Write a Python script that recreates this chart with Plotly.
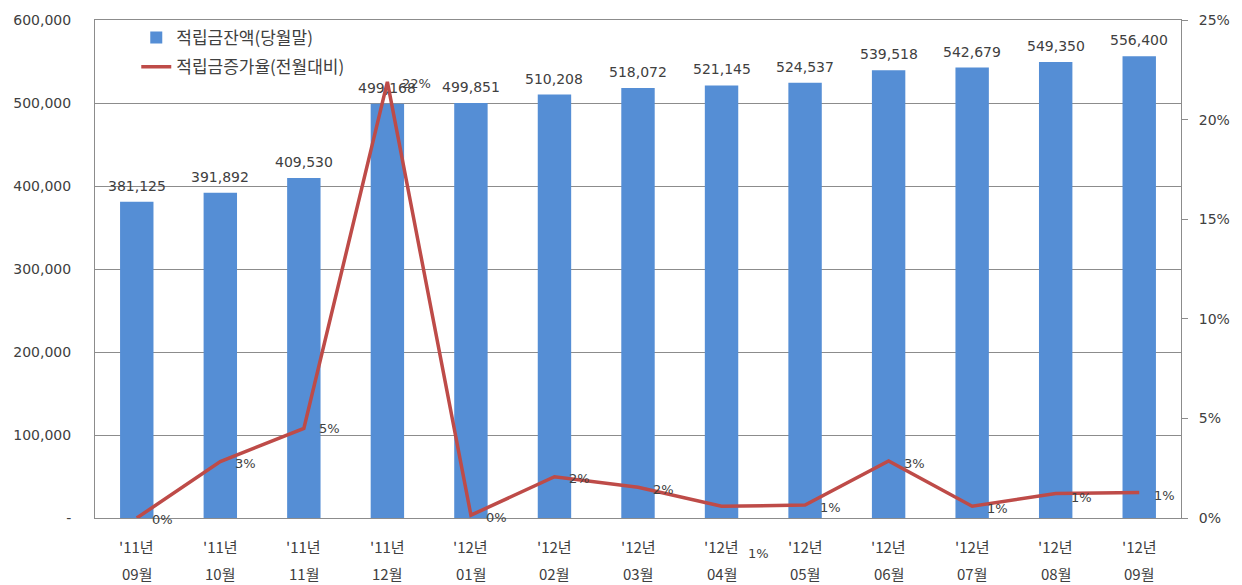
import plotly.graph_objects as go

# ---- data ----
year_labels = ["'11년", "'11년", "'11년", "'11년", "'12년", "'12년", "'12년",
               "'12년", "'12년", "'12년", "'12년", "'12년", "'12년"]
month_labels = ["09월", "10월", "11월", "12월", "01월", "02월", "03월",
                "04월", "05월", "06월", "07월", "08월", "09월"]
categories = [f"{y} {m}" for y, m in zip(year_labels, month_labels)]

balance = [381125, 391892, 409530, 499168, 499851, 510208, 518072,
           521145, 524537, 539518, 542679, 549350, 556400]
growth_pct = [0.0, 2.83, 4.50, 21.89, 0.14, 2.07, 1.54,
              0.59, 0.65, 2.86, 0.59, 1.23, 1.28]
growth_labels = ["0%", "3%", "5%", "22%", "0%", "2%", "2%",
                 "1%", "1%", "3%", "1%", "1%", "1%"]

left_tickvals = [0, 100000, 200000, 300000, 400000, 500000, 600000]
left_ticktext = ["-", "100,000", "200,000", "300,000", "400,000", "500,000", "600,000"]
right_tickvals = [0, 5, 10, 15, 20, 25]
right_ticktext = ["0%", "5%", "10%", "15%", "20%", "25%"]

bar_name = "적립금잔액(당월말)"
line_name = "적립금증가율(전월대비)"

# ---- style ----
NUM_FONT = "DejaVu Sans, Noto Sans CJK KR, sans-serif"
KR_FONT = "Noto Sans CJK KR, DejaVu Sans, sans-serif"
TEXT = "#404040"
GRID = "#8c8c8c"
BAR_COLOR = "#558ED5"
LINE_COLOR = "#BE4B48"
# per-label offsets (px) for the growth-rate labels
label_dx = [13, 13, 13, 13, 13, 13, 13, 24, 13, 13, 13, 13, 13]
label_dy = [-1, -2, 0, -2, -2, -2, -2, -47, -2, -2, -2, -4, -3]

fig = go.Figure()
fig.add_trace(go.Bar(
    x=categories, y=balance, name=bar_name, legendgroup="a",
    marker=dict(color=BAR_COLOR, line=dict(width=0)),
    yaxis="y",
))
fig.add_trace(go.Scatter(
    x=categories, y=growth_pct, name=line_name, mode="lines", legendgroup="b",
    line=dict(color=LINE_COLOR, width=3.5),
    yaxis="y2", cliponaxis=False,
))

annotations = []
for c, v in zip(categories, balance):
    annotations.append(dict(
        x=c, y=v, xref="x", yref="y", text=f"{v:,}", showarrow=False,
        yanchor="bottom", yshift=6,
        font=dict(family=NUM_FONT, size=14, color=TEXT),
    ))
for c, v, t, dx, dy in zip(categories, growth_pct, growth_labels, label_dx, label_dy):
    annotations.append(dict(
        x=c, y=v, xref="x", yref="y2", text=t, showarrow=False,
        xanchor="left", yanchor="middle", xshift=dx, yshift=dy,
        font=dict(family=NUM_FONT, size=13, color=TEXT),
    ))
for c, yl, ml in zip(categories, year_labels, month_labels):
    annotations.append(dict(
        x=c, y=0, xref="x", yref="paper", text=yl, showarrow=False,
        yanchor="middle", yshift=-28,
        font=dict(family=KR_FONT, size=15, color=TEXT),
    ))
    annotations.append(dict(
        x=c, y=0, xref="x", yref="paper", text=ml, showarrow=False,
        yanchor="middle", yshift=-55,
        font=dict(family=KR_FONT, size=15, color=TEXT),
    ))

fig.update_layout(
    width=1242, height=585,
    margin=dict(l=95, r=60, t=15, b=67),
    paper_bgcolor="white", plot_bgcolor="white",
    bargap=0.6,
    showlegend=True,
    legend=dict(
        x=0.038, y=1.0, xanchor="left", yanchor="top",
        bgcolor="rgba(0,0,0,0)",
        font=dict(family=KR_FONT, size=17, color=TEXT),
        tracegroupgap=4, traceorder="grouped",
    ),
    xaxis=dict(
        type="category", range=[-0.5, len(categories) - 0.5],
        showticklabels=False, ticks="",
        showline=True, linecolor=GRID, linewidth=1, mirror=True,
        showgrid=False, zeroline=False,
    ),
    yaxis=dict(
        range=[0, 600000], tickvals=left_tickvals, ticktext=left_ticktext,
        showgrid=True, gridcolor=GRID, gridwidth=1,
        showline=True, linecolor=GRID, linewidth=1,
        zeroline=False, ticks="", ticklabelstandoff=20,
        tickfont=dict(family=NUM_FONT, size=14, color=TEXT),
    ),
    yaxis2=dict(
        range=[0, 25], tickvals=right_tickvals, ticktext=right_ticktext,
        overlaying="y", side="right", anchor="x",
        showgrid=False, zeroline=False,
        showline=True, linecolor=GRID, linewidth=1,
        ticks="outside", ticklen=6, tickcolor=GRID, ticklabelstandoff=8,
        tickfont=dict(family=NUM_FONT, size=14, color=TEXT),
    ),
    annotations=annotations,
)

fig.write_html("out.html")
